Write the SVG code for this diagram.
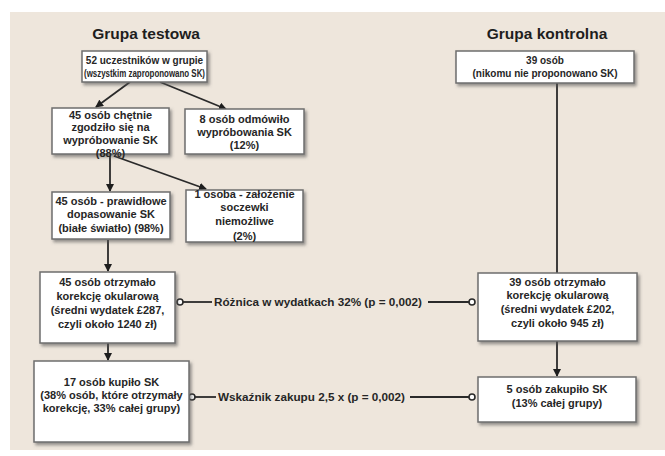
<svg xmlns="http://www.w3.org/2000/svg" width="665" height="456" viewBox="0 0 665 456">
<defs>
<style>
.box{fill:#ffffff;stroke:#6e6e6e;stroke-width:1.5;filter:url(#sh)}
.t{font-family:"Liberation Sans",Arial,sans-serif;font-weight:bold;font-size:10px;fill:#262626;text-anchor:middle}
.t2{font-family:"Liberation Sans",Arial,sans-serif;font-weight:bold;font-size:11px;fill:#262626;text-anchor:middle}
.title{font-family:"Liberation Sans",Arial,sans-serif;font-weight:bold;font-size:15.5px;fill:#1e1e1e;text-anchor:middle}
.lbl{font-family:"Liberation Sans",Arial,sans-serif;font-weight:bold;font-size:10px;fill:#262626}
.ln{stroke:#2a2a2a;stroke-width:1.8;fill:none}
.arr{marker-end:url(#ah)}
.dot{fill:#ffffff;stroke:#2a2a2a;stroke-width:1.6}
</style>
<filter id="sh" x="-10%" y="-10%" width="130%" height="140%">
<feDropShadow dx="2" dy="2.5" stdDeviation="1.5" flood-color="#555" flood-opacity="0.6"/>
</filter>
<marker id="ah" markerWidth="8" markerHeight="8" refX="7" refY="4" orient="auto" markerUnits="userSpaceOnUse">
<path d="M0,0 L8,4 L0,8 Z" fill="#1e1e1e"/>
</marker>
</defs>
<rect x="0" y="0" width="665" height="456" fill="#ffffff"/>
<rect x="10" y="12" width="655" height="438" fill="#eee6dc"/>

<text class="title" x="146" y="39">Grupa testowa</text>
<text class="title" x="547" y="39">Grupa kontrolna</text>

<g id="connectors">
<line class="ln arr" x1="130" y1="82" x2="96" y2="107"/>
<line class="ln arr" x1="160" y1="82" x2="226" y2="109"/>
<line class="ln arr" x1="110" y1="156" x2="110" y2="191"/>
<line class="ln arr" x1="114" y1="156" x2="206" y2="189"/>
<line class="ln arr" x1="108" y1="240" x2="108" y2="271"/>
<line class="ln arr" x1="108" y1="343" x2="108" y2="360"/>
<line class="ln" x1="557" y1="83" x2="557" y2="273"/>
<line class="ln arr" x1="557" y1="341" x2="557" y2="376"/>
<line class="ln" x1="183" y1="302" x2="212" y2="302"/>
<line class="ln" x1="428" y1="302" x2="469" y2="302"/>
<circle class="dot" cx="180" cy="302" r="3"/>
<circle class="dot" cx="472" cy="302" r="3"/>
<text class="lbl" x="214" y="305.5" textLength="208" lengthAdjust="spacingAndGlyphs">Różnica w wydatkach 32% (p = 0,002)</text>
<line class="ln" x1="195" y1="397" x2="216" y2="397"/>
<line class="ln" x1="410" y1="397" x2="469" y2="397"/>
<circle class="dot" cx="192" cy="397" r="3"/>
<circle class="dot" cx="472" cy="397" r="3"/>
<text class="lbl" x="218" y="400.5" textLength="187" lengthAdjust="spacingAndGlyphs">Wskaźnik zakupu 2,5 x (p = 0,002)</text>
</g>

<g id="n52">
<rect class="box" x="82" y="51" width="125" height="31"/>
<text class="t" x="144.5" y="63.5">52 uczestników w grupie</text>
<text class="t" x="144.5" y="76.5" textLength="121" lengthAdjust="spacingAndGlyphs">(wszystkim zaproponowano SK)</text>
</g>
<g id="n39">
<rect class="box" x="456" y="51" width="178" height="32"/>
<text class="t" x="545" y="63.5">39 osób</text>
<text class="t" x="545" y="76.5">(nikomu nie proponowano SK)</text>
</g>
<g id="n45a">
<rect class="box" x="52" y="108" width="117" height="46"/>
<text class="t2" x="110.5" y="119">45 osób chętnie</text>
<text class="t2" x="110.5" y="131">zgodziło się na</text>
<text class="t2" x="110.5" y="144">wypróbowanie SK</text>
<text class="t2" x="110.5" y="157">(88%)</text>
</g>
<g id="n8">
<rect class="box" x="185" y="109" width="119" height="45"/>
<text class="t2" x="244.5" y="123">8 osób odmówiło</text>
<text class="t2" x="244.5" y="136">wypróbowania SK</text>
<text class="t2" x="244.5" y="149">(12%)</text>
</g>
<g id="n45b">
<rect class="box" x="52" y="192" width="118" height="47"/>
<text class="t2" x="111" y="205">45 osób - prawidłowe</text>
<text class="t2" x="111" y="218">dopasowanie SK</text>
<text class="t2" x="111" y="232">(białe światło) (98%)</text>
</g>
<g id="n1">
<rect class="box" x="186" y="190" width="117" height="52"/>
<text class="t2" x="244.5" y="198">1 osoba - założenie</text>
<text class="t2" x="244.5" y="211">soczewki</text>
<text class="t2" x="244.5" y="225">niemożliwe</text>
<text class="t2" x="244.5" y="240">(2%)</text>
</g>
<g id="n45c">
<rect class="box" x="40" y="272" width="135" height="71"/>
<text class="t2" x="107.5" y="286">45 osób otrzymało</text>
<text class="t2" x="107.5" y="300">korekcję okularową</text>
<text class="t2" x="107.5" y="314">(średni wydatek £287,</text>
<text class="t2" x="107.5" y="328">czyli około 1240 zł)</text>
</g>
<g id="n39b">
<rect class="box" x="478" y="273" width="159" height="68"/>
<text class="t2" x="557.5" y="286">39 osób otrzymało</text>
<text class="t2" x="557.5" y="299">korekcję okularową</text>
<text class="t2" x="557.5" y="313">(średni wydatek £202,</text>
<text class="t2" x="557.5" y="327">czyli około 945 zł)</text>
</g>
<g id="n17">
<rect class="box" x="34" y="361" width="155" height="81"/>
<text class="t2" x="111.5" y="386">17 osób kupiło SK</text>
<text class="t2" x="111.5" y="399">(38% osób, które otrzymały</text>
<text class="t2" x="111.5" y="412">korekcję, 33% całej grupy)</text>
</g>
<g id="n5">
<rect class="box" x="478" y="377" width="158" height="45"/>
<text class="t2" x="557" y="393">5 osób zakupiło SK</text>
<text class="t2" x="557" y="407">(13% całej grupy)</text>
</g>
</svg>
